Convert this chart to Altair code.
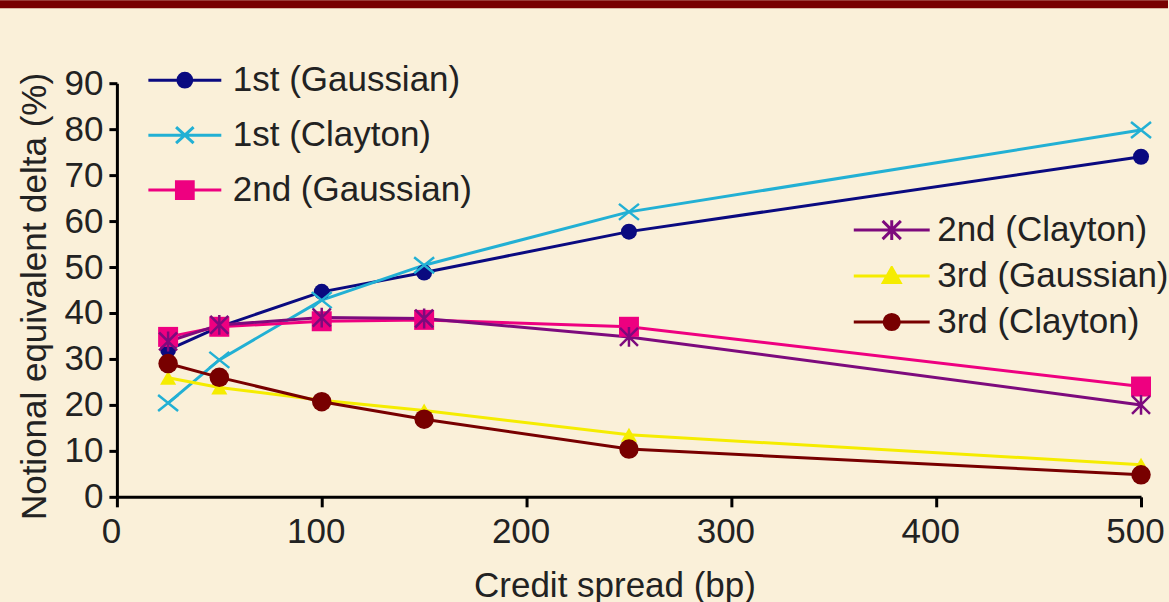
import altair as alt
import pandas as pd

# ---- data ----
spreads = [25, 50, 100, 150, 250, 500]
series_names = ["1st (Gaussian)", "1st (Clayton)", "2nd (Gaussian)",
                "2nd (Clayton)", "3rd (Gaussian)", "3rd (Clayton)"]
first_gauss = [32.0, 37.0, 44.6, 48.8, 57.7, 74.0]
first_clay = [20.4, 29.8, 42.8, 50.4, 62.0, 79.8]
second_gauss = [34.8, 37.0, 38.2, 38.5, 37.0, 24.0]
second_clay = [33.8, 37.4, 39.0, 38.8, 34.8, 20.0]
third_gauss = [25.9, 23.8, 21.0, 18.8, 13.5, 7.0]
third_clay = [29.0, 26.0, 20.7, 16.9, 10.4, 4.8]
x_ticks = [0, 100, 200, 300, 400, 500]
y_ticks = [0, 10, 20, 30, 40, 50, 60, 70, 80, 90]

values = [first_gauss, first_clay, second_gauss, second_clay, third_gauss, third_clay]
rows = []
for name, vals in zip(series_names, values):
    for xv, yv in zip(spreads, vals):
        rows.append({"series": name, "x": xv, "y": yv})
df = pd.DataFrame(rows)

# ---- styles ----
colors = ["#0a0a80", "#22b0d4", "#ee0080", "#7d0a7d", "#f5ec00", "#780000"]
FONT = "Liberation Sans"
TXT = "#222222"
BG = "#faf0d9"
BAND = "#780000"
W, H = 1025, 414

x_enc = alt.X("x:Q", scale=alt.Scale(domain=[0, 500], nice=False, zero=True),
              axis=alt.Axis(values=x_ticks, title="Credit spread (bp)", grid=False,
                            domainColor="black", domainWidth=3, tickColor="black",
                            tickWidth=3, tickSize=10, labelFont=FONT, labelFontSize=35,
                            labelColor=TXT, labelPadding=8, labelOffset=-6,
                            labelFlush=False, labelOverlap=False,
                            titleFont=FONT, titleFontSize=35, titleFontWeight="normal",
                            titleColor=TXT, titleX=498, titleY=100,
                            titleBaseline="alphabetic", titleAlign="center"))
y_enc = alt.Y("y:Q", scale=alt.Scale(domain=[0, 90], nice=False),
              axis=alt.Axis(values=y_ticks, title="Notional equivalent delta (%)", grid=False,
                            domainColor="black", domainWidth=3, tickColor="black",
                            tickWidth=3, tickSize=8, labelFont=FONT, labelFontSize=35,
                            labelColor=TXT, labelPadding=6, labelOverlap=False,
                            labelFlush=False,
                            titleFont=FONT, titleFontSize=35, titleFontWeight="normal",
                            titleColor=TXT, titleX=-71, titleY=213, titleAngle=-90,
                            titleBaseline="alphabetic", titleAlign="center"))

base = alt.Chart(df)

band = alt.Chart(alt.Data(values=[{"k": 1}])).mark_rect(color=BAND).encode(
    x=alt.value(-117), x2=alt.value(1169 - 117), y=alt.value(-83), y2=alt.value(-75))

lines = base.mark_line(strokeWidth=3).encode(
    x=x_enc, y=y_enc,
    color=alt.Color("series:N", scale=alt.Scale(domain=series_names, range=colors), legend=None))

X_PATH = "M-1,-0.8L1,0.8M-1,0.8L1,-0.8"
STAR_PATH = "M-1,-1L1,1M-1,1L1,-1M0,-1.1L0,1.1"
marker_specs = [
    (series_names[0], dict(shape="circle", filled=True, size=256)),
    (series_names[1], dict(shape=X_PATH, filled=False, size=400, strokeWidth=2.5)),
    (series_names[2], dict(shape="square", filled=True, size=400)),
    (series_names[3], dict(shape=STAR_PATH, filled=False, size=324, strokeWidth=2.5)),
    (series_names[4], dict(shape="triangle-up", filled=True, size=260)),
    (series_names[5], dict(shape="circle", filled=True, size=380)),
]
markers = []
for (name, props), col in zip(marker_specs, colors):
    markers.append(
        base.transform_filter(alt.datum.series == name)
        .mark_point(color=col, opacity=1, **props)
        .encode(x=x_enc, y=y_enc))

# legend symbols: series line plus marker (custom paths)
def circ(r):
    return f"M{r},0A{r},{r},0,1,1,{-r},0A{r},{r},0,1,1,{r},0Z"

leg_paths = [
    "M-1,0L1,0" + circ(0.19),
    "M-1,0L1,0M-0.24,-0.22L0.24,0.22M-0.24,0.22L0.24,-0.22",
    "M-1,0L1,0M-0.23,-0.23L0.23,-0.23L0.23,0.23L-0.23,0.23Z",
    "M-1,0L1,0M-0.24,-0.24L0.24,0.24M-0.24,0.24L0.24,-0.24M0,-0.26L0,0.26",
    "M-1,0L1,0M0,-0.22L0.22,0.17L-0.22,0.17Z",
    "M-1,0L1,0" + circ(0.2),
]

def legend_layer(idx, lx, ly, size, offset, rowpad):
    dom = [series_names[i] for i in idx]
    cols = [colors[i] for i in idx]
    paths = [leg_paths[i] for i in idx]
    leg = alt.Legend(orient="none", legendX=lx, legendY=ly, title=None,
                     symbolSize=size, symbolStrokeWidth=3, labelFont=FONT,
                     labelFontSize=35, labelColor=TXT, labelOffset=offset,
                     rowPadding=rowpad, clipHeight=20, padding=0,
                     direction="vertical", labelLimit=400)
    return base.transform_filter("false").mark_point(opacity=1).encode(
        x=x_enc, y=y_enc,
        fill=alt.Fill("series:N", scale=alt.Scale(domain=dom, range=cols), legend=leg),
        stroke=alt.Stroke("series:N", scale=alt.Scale(domain=dom, range=cols), legend=leg),
        shape=alt.Shape("series:N", scale=alt.Scale(domain=dom, range=paths), legend=leg))

leg1 = legend_layer([0, 1, 2], 30, -13, 73 * 73, 10, 20)
leg2 = legend_layer([3, 4, 5], 736, 137, 76 * 76, 6, 11)

chart = alt.layer(band, lines, *markers, leg1, leg2).resolve_scale(
    fill="independent", stroke="independent", shape="independent"
).properties(
    width=W, height=H, padding=0, background=BG
).configure_view(stroke=None)

chart.save("out.html", embed_options={"renderer": "svg", "actions": False})
